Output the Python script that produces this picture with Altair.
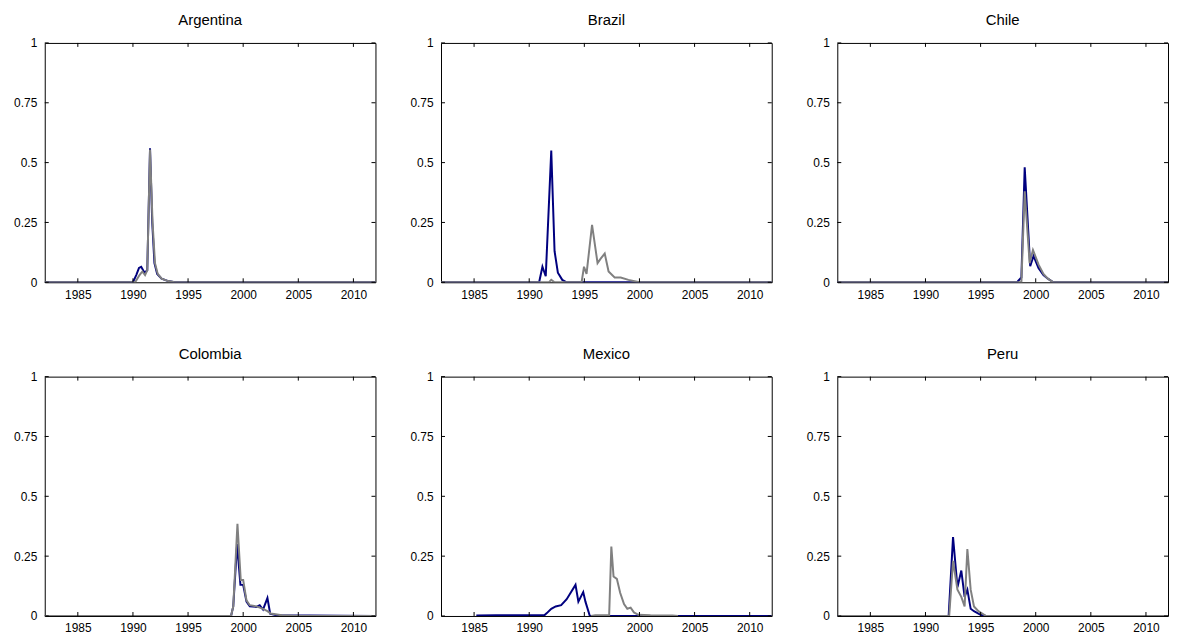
import altair as alt
import pandas as pd

COUNTRIES = ["Argentina", "Brazil", "Chile", "Colombia", "Mexico", "Peru"]
X_TICKS = [1985, 1990, 1995, 2000, 2005, 2010]
Y_TICKS = [0, 0.25, 0.5, 0.75, 1]

# ---- navy series (year, value) ----
ARG_NAVY_T = [1982, 1990.0, 1990.3, 1990.55, 1990.75, 1991.05, 1991.3, 1991.55, 1991.75, 1991.95, 1992.2, 1992.6, 1993.2, 1993.8, 2012]
ARG_NAVY_V = [0, 0, 0.03, 0.06, 0.065, 0.04, 0.05, 0.56, 0.25, 0.08, 0.035, 0.015, 0.005, 0, 0]
BRA_NAVY_T = [1982, 1990.9, 1991.2, 1991.5, 1992.0, 1992.3, 1992.6, 1993.0, 1993.4, 2012]
BRA_NAVY_V = [0, 0, 0.065, 0.025, 0.55, 0.13, 0.04, 0.01, 0, 0]
CHL_NAVY_T = [1982, 1998.3, 1998.7, 1999.0, 1999.5, 1999.8, 2000.25, 2000.7, 2001.1, 2001.6, 2012]
CHL_NAVY_V = [0, 0, 0.02, 0.48, 0.067, 0.11, 0.06, 0.03, 0.015, 0, 0]
COL_NAVY_T = [1982, 1998.9, 1999.1, 1999.45, 1999.75, 2000.0, 2000.3, 2000.6, 2001.2, 2001.5, 2001.8, 2002.2, 2002.45, 2003.0, 2012]
COL_NAVY_V = [0, 0, 0.04, 0.3, 0.13, 0.13, 0.06, 0.04, 0.038, 0.045, 0.027, 0.075, 0.01, 0.003, 0]
MEX_NAVY_T = [1985.2, 1987.0, 1989.0, 1991.4, 1991.6, 1992.0, 1992.4, 1992.9, 1993.4, 1993.8, 1994.2, 1994.46, 1994.9, 1995.1, 1995.5, 2012]
MEX_NAVY_V = [0.002, 0.003, 0.003, 0.004, 0.012, 0.03, 0.04, 0.045, 0.07, 0.10, 0.13, 0.06, 0.10, 0.06, 0, 0]
PER_NAVY_T = [1982, 1992.1, 1992.5, 1992.9, 1993.25, 1993.55, 1993.8, 1994.1, 1994.4, 1995.0, 1995.5, 2012]
PER_NAVY_V = [0, 0, 0.33, 0.12, 0.19, 0.08, 0.11, 0.03, 0.02, 0.005, 0, 0]

# ---- gray series (year, value) ----
ARG_GRAY_T = [1982, 1990.2, 1990.6, 1990.85, 1991.1, 1991.3, 1991.55, 1991.78, 1992.0, 1992.25, 1992.6, 1993.2, 1993.8, 2012]
ARG_GRAY_V = [0, 0, 0.03, 0.045, 0.03, 0.05, 0.555, 0.25, 0.08, 0.035, 0.015, 0.005, 0, 0]
BRA_GRAY_T = [1982, 1991.8, 1992.0, 1992.3, 1994.75, 1994.97, 1995.2, 1995.7, 1996.2, 1996.5, 1996.85, 1997.2, 1997.75, 1998.3, 1999.0, 2000.0, 2012]
BRA_GRAY_V = [0, 0, 0.01, 0, 0, 0.065, 0.035, 0.24, 0.08, 0.1, 0.12, 0.045, 0.02, 0.02, 0.01, 0, 0]
CHL_GRAY_T = [1982, 1998.7, 1999.0, 1999.45, 1999.75, 2000.25, 2000.7, 2001.1, 2001.6, 2012]
CHL_GRAY_V = [0, 0, 0.38, 0.08, 0.135, 0.075, 0.035, 0.015, 0, 0]
COL_GRAY_T = [1982, 1998.9, 1999.1, 1999.48, 1999.78, 2000.0, 2000.3, 2000.6, 2001.2, 2001.5, 2001.8, 2002.2, 2002.5, 2003.5, 2005.0, 2012]
COL_GRAY_V = [0, 0, 0.04, 0.385, 0.15, 0.15, 0.065, 0.045, 0.04, 0.035, 0.03, 0.02, 0.01, 0.003, 0, 0]
MEX_GRAY_T = [1995.6, 1996.0, 1997.1, 1997.25, 1997.45, 1997.65, 1997.95, 1998.25, 1998.6, 1998.9, 1999.2, 1999.5, 1999.9, 2001.0, 2003.0, 2003.5]
MEX_GRAY_V = [0, 0.003, 0.003, 0, 0.29, 0.165, 0.155, 0.097, 0.05, 0.03, 0.035, 0.015, 0.005, 0.003, 0.002, 0]
PER_GRAY_T = [1982, 1992.15, 1992.5, 1992.9, 1993.25, 1993.55, 1993.8, 1994.1, 1994.4, 1994.8, 1995.5, 2012]
PER_GRAY_V = [0, 0, 0.23, 0.11, 0.08, 0.04, 0.28, 0.11, 0.04, 0.02, 0, 0]

SERIES = {
    "Argentina": (ARG_NAVY_T, ARG_NAVY_V, ARG_GRAY_T, ARG_GRAY_V),
    "Brazil": (BRA_NAVY_T, BRA_NAVY_V, BRA_GRAY_T, BRA_GRAY_V),
    "Chile": (CHL_NAVY_T, CHL_NAVY_V, CHL_GRAY_T, CHL_GRAY_V),
    "Colombia": (COL_NAVY_T, COL_NAVY_V, COL_GRAY_T, COL_GRAY_V),
    "Mexico": (MEX_NAVY_T, MEX_NAVY_V, MEX_GRAY_T, MEX_GRAY_V),
    "Peru": (PER_NAVY_T, PER_NAVY_V, PER_GRAY_T, PER_GRAY_V),
}

NAVY = "#00007f"
GRAY = "#808080"
FONT = "Liberation Sans"
W, H = 333, 241
TICK = 4

x_ticks_df = pd.DataFrame({"year": X_TICKS})
y_ticks_df = pd.DataFrame({"value": Y_TICKS})

x_enc = alt.X(
    "year:Q",
    title=None,
    scale=alt.Scale(domain=[1982, 2012], nice=False, zero=False),
    axis=alt.Axis(values=X_TICKS, format="d", labelPadding=7, labelFlush=False,
                  minExtent=20, maxExtent=20),
)
y_enc = alt.Y(
    "value:Q",
    title=None,
    scale=alt.Scale(domain=[0, 1], nice=False),
    axis=alt.Axis(values=Y_TICKS, labelExpr="'' + datum.value", labelPadding=8,
                  labelFlush=False, minExtent=36, maxExtent=36),
)


def panel(name):
    nt, nv, gt, gv = SERIES[name]
    navy_df = pd.DataFrame({"year": nt, "value": nv})
    gray_df = pd.DataFrame({"year": gt, "value": gv})
    navy = alt.Chart(navy_df).mark_line(color=NAVY, strokeWidth=2, clip=True).encode(x=x_enc, y=y_enc)
    gray = alt.Chart(gray_df).mark_line(color=GRAY, strokeWidth=2, clip=True).encode(x=x_enc, y=y_enc)
    bottom = alt.Chart(x_ticks_df).mark_rule(color="black", strokeWidth=1).encode(
        x=x_enc, y=alt.value(H), y2=alt.value(H - TICK))
    top = alt.Chart(x_ticks_df).mark_rule(color="black", strokeWidth=1).encode(
        x=x_enc, y=alt.value(0), y2=alt.value(TICK))
    left = alt.Chart(y_ticks_df).mark_rule(color="black", strokeWidth=1).encode(
        y=y_enc, x=alt.value(0), x2=alt.value(TICK))
    right = alt.Chart(y_ticks_df).mark_rule(color="black", strokeWidth=1).encode(
        y=y_enc, x=alt.value(W), x2=alt.value(W - TICK))
    return alt.layer(navy, gray, bottom, top, left, right).properties(
        width=W, height=H,
        title=alt.TitleParams(text=name, fontSize=15, font=FONT, fontWeight="normal",
                              anchor="middle", offset=9, color="black"),
    )


row1 = alt.hconcat(*[panel(c) for c in COUNTRIES[:3]], spacing=28)
row2 = alt.hconcat(*[panel(c) for c in COUNTRIES[3:]], spacing=28)

chart = (
    alt.vconcat(row1, row2, spacing=43)
    .properties(padding={"left": 0, "top": 2, "right": 0, "bottom": 0})
    .configure_view(stroke="black", strokeWidth=1)
    .configure_axis(domain=False, ticks=False, grid=False, labelFont=FONT,
                    labelFontSize=12, labelColor="black")
    .configure_title(font=FONT, fontWeight="normal")
)

chart.save("out.html", embed_options={"renderer": "svg", "actions": False})
